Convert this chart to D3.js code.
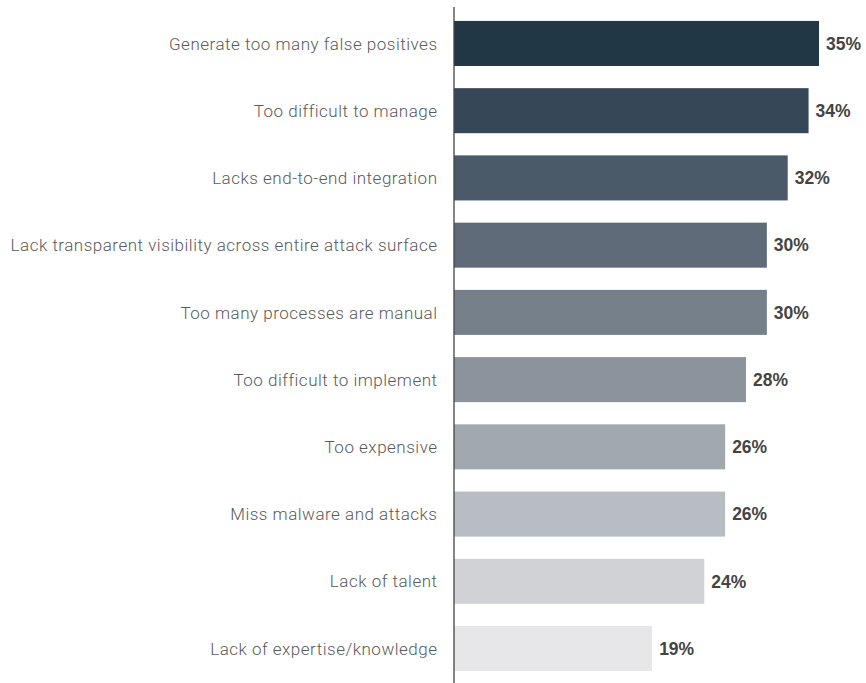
<!DOCTYPE html>
<html>
<head>
<meta charset="utf-8">
<script src="https://cdn.jsdelivr.net/npm/d3@7"></script>
<style>
  html, body { margin: 0; padding: 0; background: #fff; }
  svg { display: block; }
</style>
</head>
<body>
<svg id="chart" width="866" height="683"></svg>
<script>
// Reasons cited (share of respondents)
const categories = [
  "Generate too many false positives",
  "Too difficult to manage",
  "Lacks end-to-end integration",
  "Lack transparent visibility across entire attack surface",
  "Too many processes are manual",
  "Too difficult to implement",
  "Too expensive",
  "Miss malware and attacks",
  "Lack of talent",
  "Lack of expertise/knowledge"
];
const values = [35, 34, 32, 30, 30, 28, 26, 26, 24, 19];
const barColors = [
  "#223746", "#364857", "#4a5a69", "#5f6b78", "#76808b",
  "#8b939c", "#a1a8b0", "#b8bcc3", "#d0d2d6", "#e7e7e9"
];

const svg = d3.select("#chart");
const axisX = 454;

const x = d3.scaleLinear().domain([0, 35]).range([axisX, 819]);
const y = d3.scaleBand()
  .domain(categories)
  .range([9.5, 682.5])
  .paddingInner(0.33)
  .paddingOuter(0.17);

// Bars
svg.append("g").selectAll("rect")
  .data(categories)
  .join("rect")
  .attr("x", x(0))
  .attr("y", d => y(d))
  .attr("width", (d, i) => x(values[i]) - x(0))
  .attr("height", y.bandwidth())
  .attr("fill", (d, i) => barColors[i]);

// Vertical baseline
svg.append("line")
  .attr("x1", axisX).attr("x2", axisX)
  .attr("y1", 7).attr("y2", 683)
  .attr("stroke", "#444").attr("stroke-width", 1.3);

// Category labels
svg.append("g").selectAll("text")
  .data(categories)
  .join("text")
  .attr("x", 437.5)
  .attr("y", d => y(d) + y.bandwidth() / 2)
  .attr("dy", "0.36em")
  .attr("text-anchor", "end")
  .attr("font-family", "Roboto, 'Liberation Sans', sans-serif")
  .attr("font-weight", 300)
  .attr("font-size", 17)
  .attr("letter-spacing", 0.5)
  .attr("fill", "#5a5a5a")
  .text(d => d);

// Value labels
svg.append("g").selectAll("text")
  .data(categories)
  .join("text")
  .attr("x", (d, i) => x(values[i]) + 7)
  .attr("y", d => y(d) + y.bandwidth() / 2)
  .attr("dy", "0.36em")
  .attr("font-family", "'Liberation Sans', Arial, sans-serif")
  .attr("font-weight", "bold")
  .attr("font-size", 17.5)
  .attr("fill", "#444")
  .text((d, i) => values[i] + "%");
</script>
</body>
</html>
